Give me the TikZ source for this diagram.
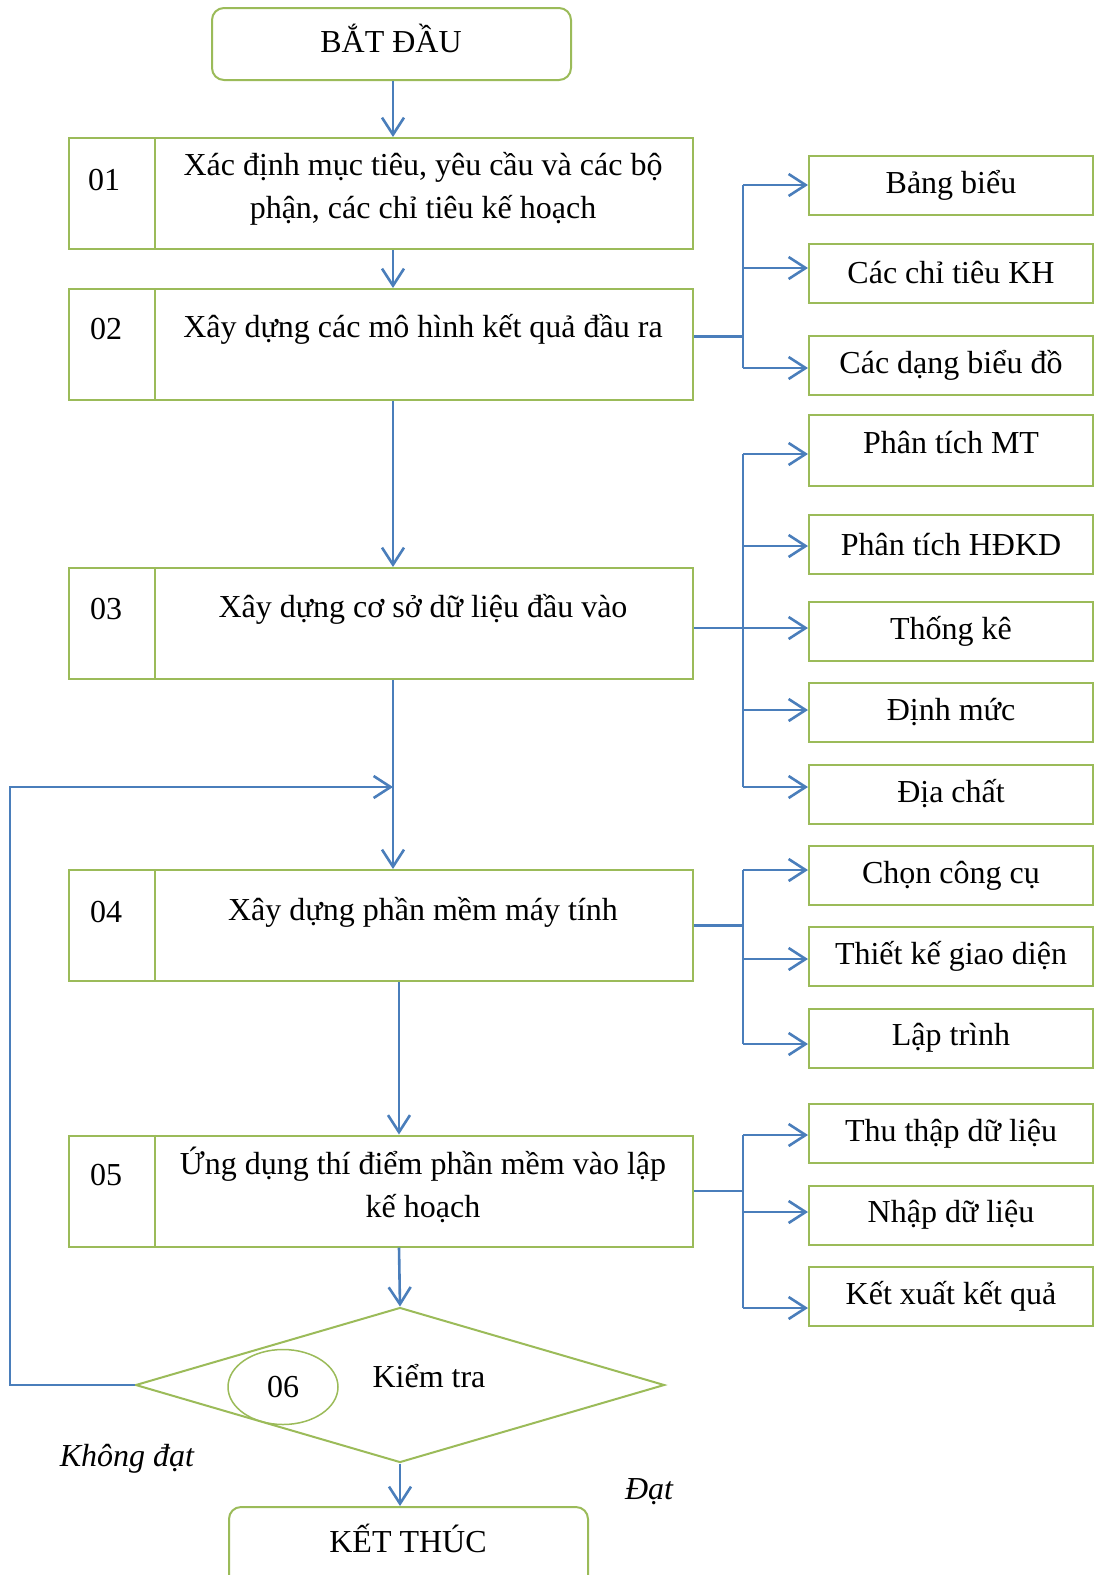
\documentclass[tikz,border=0pt]{standalone}
\usepackage{fontspec}
\setmainfont{Liberation Serif}
\usetikzlibrary{arrows.meta,shapes.geometric}
\definecolor{boxgreen}{RGB}{155,187,89}
\definecolor{linkblue}{RGB}{74,126,187}
\begin{document}
\begin{tikzpicture}[x=1pt,y=-1pt,
  font=\fontsize{32}{43}\selectfont,
  box/.style={draw=boxgreen, line width=2pt, rectangle, inner sep=0pt},
  mainbox/.style={box, minimum width=624pt, minimum height=111pt},
  sidebox/.style={box, minimum width=284pt, minimum height=59pt},
  term/.style={box, rounded corners=12pt, minimum width=359pt, minimum height=72pt},
  link/.style={draw=linkblue, line width=2.6pt},
  arr/.style={link, -{Straight Barb[length=17pt,width=22pt]}},
  verdict/.style={font=\fontsize{32}{43}\selectfont\itshape},
]
\useasboundingbox (0,0) rectangle (1095,1575);
\clip (0,0) rectangle (1095,1575);

% terminals
\node[term] (start) at (391.5,44) {};
\node (starttxt) at (391,38) {BẮT ĐẦU};
\node[term, minimum height=84pt] (end) at (408.5,1549) {};
\node (endtxt) at (408,1538) {KẾT THÚC};

% numbered steps
\coordinate (divx) at (155,0);
\node[mainbox] (b01) at (381,193.5) {};
\node[mainbox] (b02) at (381,344.5) {};
\node[mainbox] (b03) at (381,623.5) {};
\node[mainbox] (b04) at (381,925.5) {};
\node[mainbox] (b05) at (381,1191) {};
\foreach \b in {b01,b02,b03,b04,b05}
  \draw[draw=boxgreen, line width=2pt] (\b.north -| divx) -- (\b.south -| divx);

\node (n01) at (104,180) {01};
\node[align=center] (t01) at (423,188.5) {Xác định mục tiêu, yêu cầu và các bộ\\phận, các chỉ tiêu kế hoạch};
\node (n02) at (106,329.5) {02};
\node (t02) at (423,329.5) {Xây dựng các mô hình kết quả đầu ra};
\node (n03) at (106,609) {03};
\node (t03) at (423,609) {Xây dựng cơ sở dữ liệu đầu vào};
\node (n04) at (106,912) {04};
\node (t04) at (423,912) {Xây dựng phần mềm máy tính};
\node (n05) at (106,1175) {05};
\node[align=center] (t05) at (423,1184.5) {Ứng dụng thí điểm phần mềm vào lập\\kế hoạch};

% decision
\node[draw=boxgreen, line width=2pt, diamond, minimum width=529pt, minimum height=155pt, inner sep=0pt] (dia) at (400,1385) {};
\node[draw=boxgreen, line width=1.5pt, ellipse, minimum width=110pt, minimum height=75pt, inner sep=0pt] (c06) at (283,1387) {06};
\node (kt) at (429,1376) {Kiểm tra};
\node[verdict] (ko) at (127,1459) {Không đạt};
\node[verdict] (ok) at (649,1492) {Đạt};

% detail boxes
\node[sidebox] (r1) at (951,185) {Bảng biểu};
\node[sidebox] (r2) at (951,273) {Các chỉ tiêu KH};
\node[sidebox] (r3) at (951,365) {Các dạng biểu đồ};
\node[sidebox, minimum height=71pt] (r4) at (951,450.5) {};
\node (r4t) at (951,443) {Phân tích MT};
\node[sidebox] (r5) at (951,544.5) {Phân tích HĐKD};
\node[sidebox] (r6) at (951,631) {Thống kê};
\node[sidebox] (r7) at (951,712) {Định mức};
\node[sidebox] (r8) at (951,794) {Địa chất};
\node[sidebox] (r9) at (951,875.5) {Chọn công cụ};
\node[sidebox] (r10) at (951,956.5) {Thiết kế giao diện};
\node[sidebox] (r11) at (951,1038) {Lập trình};
\node[sidebox] (r12) at (951,1133.5) {Thu thập dữ liệu};
\node[sidebox] (r13) at (951,1215) {Nhập dữ liệu};
\node[sidebox] (r14) at (951,1296) {Kết xuất kết quả};

% arrow entry points on the detail boxes
\foreach \r/\s in {r1/0, r2/5, r3/-3, r4/-3.5, r5/-1.5, r6/3, r7/2, r8/7,
                   r9/5.5, r10/-2.5, r11/-6, r12/-1.5, r13/3, r14/-12}
  \coordinate (a\r) at ([yshift=\s pt]\r.west);

% main flow
\coordinate (colA) at (393,0);
\coordinate (colB) at (399,0);
\draw[arr] (start.south -| colA) -- (b01.north -| colA);
\draw[arr] (b01.south -| colA) -- (b02.north -| colA);
\draw[arr] (b02.south -| colA) -- (b03.north -| colA);
\draw[arr] (b03.south -| colA) -- (b04.north -| colA);
\draw[arr] (b04.south -| colB) -- (b05.north -| colB);
\draw[arr] (b05.south -| colB) -- (dia.north);
\draw[arr] (dia.south) -- (end.north -| dia.south);

% feedback loop
\coordinate (loopc) at (10,787);
\coordinate (merge) at (393,787);
\draw[arr] (dia.west) -| (loopc) -- (merge);

% branches to detail boxes
\coordinate (trunk) at (743,0);
\draw[link] ([yshift=8pt]b02.east) -- ([yshift=8pt]b02.east -| trunk);
\draw[link] (ar1 -| trunk) -- (ar3 -| trunk);
\foreach \r in {r1,r2,r3} \draw[arr] (a\r -| trunk) -- (a\r);

\draw[link] (ar4 -| trunk) -- (ar8 -| trunk);
\draw[arr] (ar6 -| b03.east) -- (ar6);
\foreach \r in {r4,r5,r7,r8} \draw[arr] (a\r -| trunk) -- (a\r);

\draw[link] (b04.east) -- (b04.east -| trunk);
\draw[link] (ar9 -| trunk) -- (ar11 -| trunk);
\foreach \r in {r9,r10,r11} \draw[arr] (a\r -| trunk) -- (a\r);

\draw[link] (b05.east) -- (b05.east -| trunk);
\draw[link] (ar12 -| trunk) -- (ar14 -| trunk);
\foreach \r in {r12,r13,r14} \draw[arr] (a\r -| trunk) -- (a\r);
\end{tikzpicture}
\end{document}
